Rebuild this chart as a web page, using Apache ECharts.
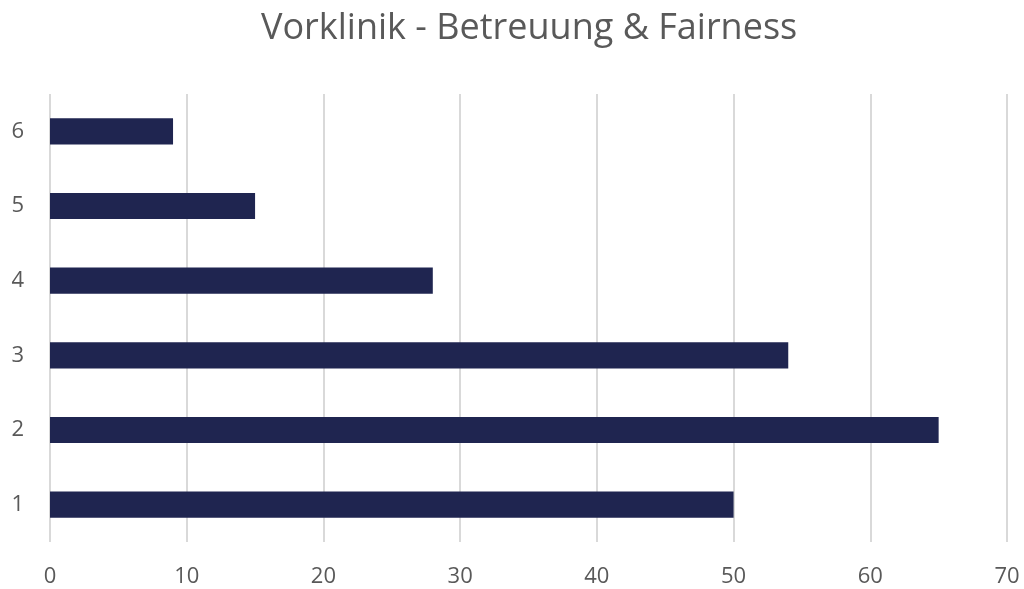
<!DOCTYPE html>
<html>
<head>
<meta charset="utf-8">
<script src="https://cdn.jsdelivr.net/npm/echarts@6/dist/echarts.min.js"></script>
<style>
  html, body { margin: 0; padding: 0; background: #fff; }
  #chart { width: 1024px; height: 589px; }
</style>
</head>
<body>
<div id="chart"></div>
<script>
// Kategorien (unten nach oben) und Werte
var categories = ['1', '2', '3', '4', '5', '6'];
var values = [50, 65, 54, 28, 15, 9];
var xTicks = [0, 10, 20, 30, 40, 50, 60, 70];

var chart = echarts.init(document.getElementById('chart'));
var option = {
    backgroundColor: '#ffffff',
    title: {
        text: 'Vorklinik - Betreuung & Fairness',
        left: 256,
        top: 6,
        textStyle: {
            fontFamily: 'Open Sans',
            fontWeight: 'normal',
            fontSize: 36,
            color: '#595959'
        }
    },
    grid: {
        left: 50,
        right: 17,
        top: 94,
        bottom: 47
    },
    xAxis: {
        type: 'value',
        min: xTicks[0],
        max: xTicks[xTicks.length - 1],
        interval: 10,
        axisLine: { show: false },
        axisTick: { show: false },
        splitLine: {
            show: true,
            lineStyle: { color: '#d9d9d9', width: 2 }
        },
        axisLabel: {
            margin: 24,
            fontFamily: 'Open Sans',
            fontSize: 22,
            color: '#595959'
        }
    },
    yAxis: {
        type: 'category',
        data: categories,
        axisLine: { show: false },
        axisTick: { show: false },
        axisLabel: {
            margin: 26,
            fontFamily: 'Open Sans',
            fontSize: 22,
            color: '#595959'
        }
    },
    series: [{
        type: 'bar',
        data: values,
        barWidth: '35%',
        itemStyle: { color: '#1f2550' }
    }]
};
chart.setOption(option);
</script>
</body>
</html>
